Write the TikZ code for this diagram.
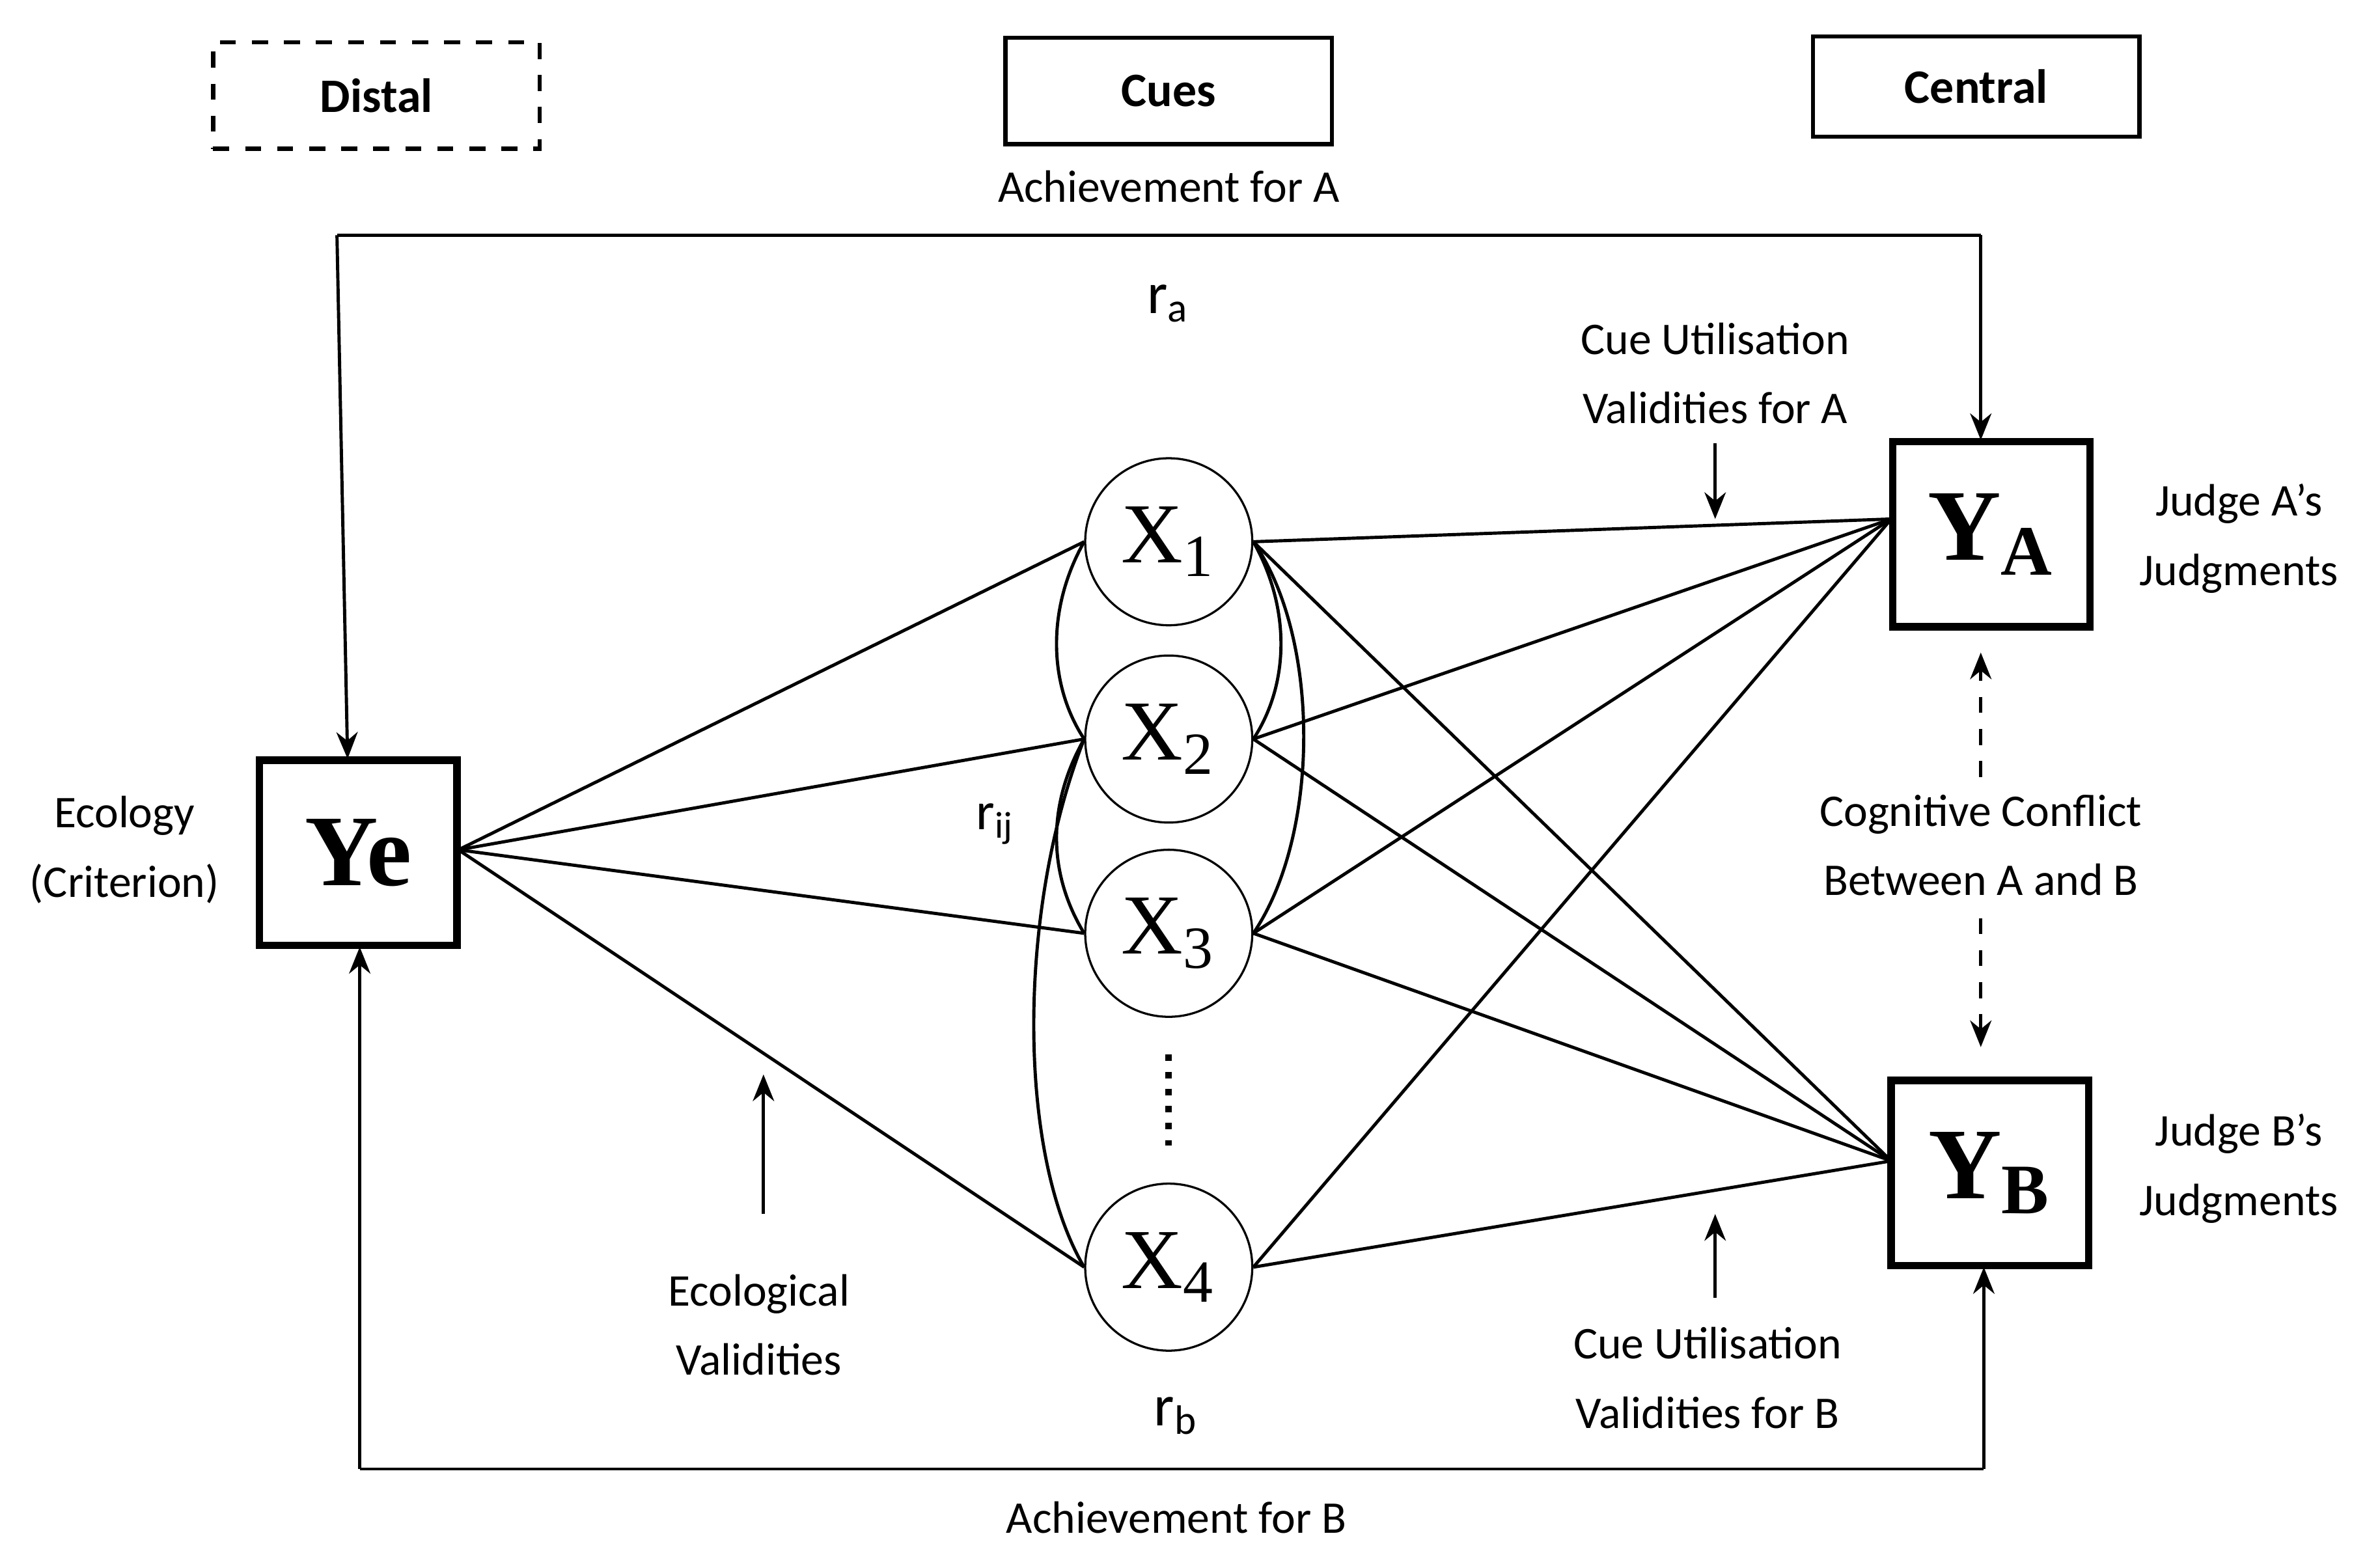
\documentclass[tikz,border=0pt]{standalone}
\usepackage{fontspec}
\setmainfont{Carlito}
\newfontfamily\serifx{Liberation Serif}
\usetikzlibrary{arrows.meta}
\begin{document}
\begin{tikzpicture}[x=0.01cm,y=-0.01cm,
  lab/.style={font=\fontsize{8.5}{10}\selectfont, align=center},
  hd/.style={draw, line width=0.8pt, minimum width=2.15cm, minimum height=0.7cm, font=\fontsize{9}{10}\selectfont\bfseries},
  bx/.style={draw, line width=1.4pt, minimum width=1.3cm, minimum height=1.22cm},
  cue/.style={draw, circle, minimum size=1.1cm, inner sep=0pt, font=\serifx\fontsize{16}{16}\selectfont},
  ln/.style={line width=0.6pt},
  ar/.style={line width=0.6pt, -{Stealth[length=5pt,width=4pt]}}]
\useasboundingbox (0,0) rectangle (1568,1022);
\node[hd, dashed] (distal) at (248,63) {Distal};
\node[hd] (cues) at (770,60) {Cues};
\node[hd, minimum height=0.66cm] (central) at (1302,57) {Central};
\node[lab] (achA) at (770,123) {Achievement for A};
\node[lab, font=\fontsize{11}{12}\selectfont] (ra) at (770,200) {r\textsubscript{a}};
\node[bx, font=\serifx\bfseries\fontsize{19}{19}\selectfont] (Ye) at (236,562) {Ye};
\node[bx, font=\serifx\bfseries\fontsize{19}{19}\selectfont] (YA) at (1312,352) {Y\textsubscript{A}};
\node[bx, font=\serifx\bfseries\fontsize{19}{19}\selectfont] (YB) at (1311,773) {Y\textsubscript{B}};
\node[lab] (eco) at (82,560) {Ecology\\[3pt](Criterion)};
\node[lab] (jA) at (1475,355) {Judge A's\\[3pt]Judgments};
\node[lab] (jB) at (1475,770) {Judge B's\\[3pt]Judgments};
\node[cue] (X1) at (770,357) {X\textsubscript{1}};
\node[cue] (X2) at (770,487) {X\textsubscript{2}};
\node[cue] (X3) at (770,615) {X\textsubscript{3}};
\node[cue] (X4) at (770,835) {X\textsubscript{4}};
\draw[line width=1.2pt, dotted] (770,695) -- (770,755);
\node[lab, font=\fontsize{10}{12}\selectfont] (rij) at (656,543) {r\textsubscript{ij}};
\node[lab, font=\fontsize{11}{12}\selectfont] (rb) at (775,933) {r\textsubscript{b}};
\node[lab] (achB) at (775,1000) {Achievement for B};
\node[lab] (cuA) at (1130,246) {Cue Utilisation\\[3pt]Validities for A};
\node[lab] (cuB) at (1125,908) {Cue Utilisation\\[3pt]Validities for B};
\node[lab] (ecv) at (500,873) {Ecological\\[3pt]Validities};
\node[lab] (cc) at (1305,557) {Cognitive Conflict\\[3pt]Between A and B};
% achievement loops
\coordinate (tl) at (222,155); \coordinate (tr) at (1305,155);
\coordinate (bl) at (237,968); \coordinate (br) at (1307,968);
\draw[ln] (tl) -- (tr);
\draw[ar] (tr) -- (1305,290);
\draw[ar] (tl) -- (229,500);
\draw[ln] (bl) -- (br);
\draw[ar] (bl) -- (237,624);
\draw[ar] (br) -- (1307,835);
% ecology lines
\coordinate (Yr) at (302,560);
\draw[ln] (Yr) -- (X1.west);
\draw[ln] (Yr) -- (X2.west);
\draw[ln] (Yr) -- (X3.west);
\draw[ln] (Yr) -- (X4.west);
% judge lines
\coordinate (Al) at (1246,342); \coordinate (Bl) at (1246,765);
\foreach \n in {X1, X2, X3, X4}{
  \draw[ln] (\n.east) -- (Al); \draw[ln] (\n.east) -- (Bl);}
% intercorrelation curves
\draw[ln] (X1.west) .. controls (690,400) and (690,450) .. (X2.west);
\draw[ln] (X2.west) .. controls (690,530) and (690,575) .. (X3.west);
\draw[ln] (X2.west) .. controls (670,600) and (670,760) .. (X4.west);
\draw[ln] (X1.east) .. controls (850,400) and (850,450) .. (X2.east);
\draw[ln] (X1.east) .. controls (870,420) and (870,550) .. (X3.east);
% label arrows
\draw[ar] (1130,292) -- (1130,342);
\draw[ar] (1130,855) -- (1130,800);
\draw[ar] (503,800) -- (503,708);
\draw[ar, dashed] (1305,512) -- (1305,430);
\draw[ar, dashed] (1305,605) -- (1305,690);
\end{tikzpicture}
\end{document}
